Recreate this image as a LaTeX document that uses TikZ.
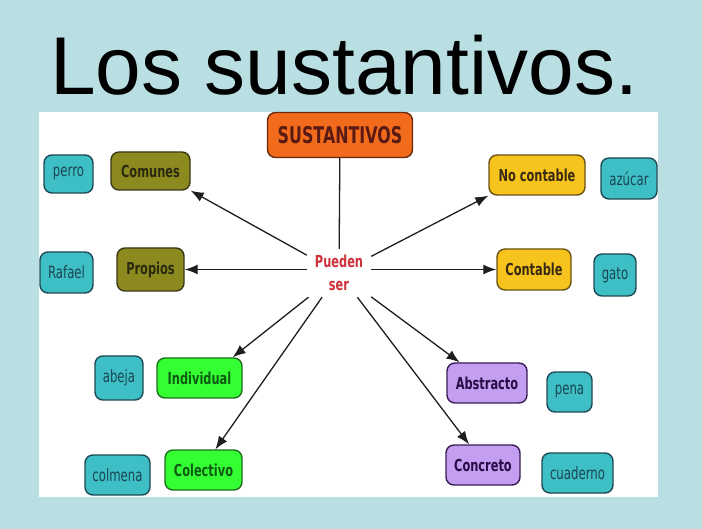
\documentclass[tikz,border=0pt]{standalone}
\usepackage{fontspec}
\setmainfont{Liberation Sans}
\newfontfamily\boxfont[FakeStretch=0.69]{DejaVu Sans}
\usetikzlibrary{arrows.meta}
\definecolor{bgblue}{HTML}{B9DFE3}
\definecolor{tealfill}{HTML}{3EBFC6}
\definecolor{tealline}{HTML}{1E4A55}
\definecolor{tealtext}{HTML}{1B4652}
\definecolor{olivefill}{HTML}{8C8A1E}
\definecolor{oliveline}{HTML}{3A3812}
\definecolor{olivetext}{HTML}{2A2A10}
\definecolor{yellowfill}{HTML}{F6C41C}
\definecolor{yellowline}{HTML}{6A5214}
\definecolor{yellowtext}{HTML}{3A2A12}
\definecolor{greenfill}{HTML}{33FF33}
\definecolor{greenline}{HTML}{1E6E1E}
\definecolor{greentext}{HTML}{0E5A12}
\definecolor{purplefill}{HTML}{C49EF0}
\definecolor{purpleline}{HTML}{3A1C55}
\definecolor{purpletext}{HTML}{2A0C48}
\definecolor{orangefill}{HTML}{F26B1C}
\definecolor{orangeline}{HTML}{6A2A12}
\definecolor{orangetext}{HTML}{5A1A14}
\definecolor{puedenred}{HTML}{D0303A}
\definecolor{arrowgray}{HTML}{1E1E1E}
\tikzset{
  basebox/.style={rounded corners=8pt, line width=1.4pt, inner sep=0pt, minimum height=40pt, align=center},
  leafbox/.style={basebox, draw=tealline, fill=tealfill, text=tealtext, font=\boxfont\fontsize{17}{19}\selectfont},
  olivebox/.style={basebox, draw=oliveline, fill=olivefill, text=olivetext, font=\boxfont\bfseries\fontsize{16.5}{18}\selectfont},
  yellowbox/.style={basebox, draw=yellowline, fill=yellowfill, text=yellowtext, font=\boxfont\bfseries\fontsize{16.5}{18}\selectfont},
  greenbox/.style={basebox, draw=greenline, fill=greenfill, text=greentext, font=\boxfont\bfseries\fontsize{16.5}{18}\selectfont},
  purplebox/.style={basebox, draw=purpleline, fill=purplefill, text=purpletext, font=\boxfont\bfseries\fontsize{16.5}{18}\selectfont},
  topbox/.style={basebox, draw=orangeline, fill=orangefill, text=orangetext, font=\boxfont\bfseries\fontsize{23}{25}\selectfont},
  conn/.style={draw=arrowgray, line width=1.3pt},
  arr/.style={conn, -{Latex[length=13pt,width=10pt]}}
}
\begin{document}
\begin{tikzpicture}[x=1pt,y=-1pt]
\fill[bgblue] (0,0) rectangle (702,529);
\useasboundingbox (0,0) rectangle (702,529);
\fill[white] (39,112) rectangle (658,497);
\node[font=\fontsize{82}{92}\selectfont, anchor=base] (title) at (344,95) {Los sustantivos.};

\node[topbox, minimum width=145pt, minimum height=45pt] (sust) at (340,135) {SUSTANTIVOS};
\node[minimum width=64pt, minimum height=48pt, inner sep=0pt, align=center, text=puedenred,
      font=\boxfont\bfseries\fontsize{16.5}{23}\selectfont] (pueden) at (339,273) {Pueden\\ser};

\node[olivebox, minimum width=79pt, minimum height=38pt] (comunes) at (150.5,171) {Comunes};
\node[olivebox, minimum width=67pt, minimum height=43pt] (propios) at (150.5,269.5) {Propios};
\node[yellowbox, minimum width=96pt] (nocont) at (537,175) {No contable};
\node[yellowbox, minimum width=74pt, minimum height=41pt] (cont) at (534,269.5) {Contable};
\node[greenbox, minimum width=85pt] (indiv) at (199.5,378) {Individual};
\node[greenbox, minimum width=77pt] (colec) at (203.5,470) {Colectivo};
\node[purplebox, minimum width=80pt] (abstr) at (487,383) {Abstracto};
\node[purplebox, minimum width=74pt] (concr) at (483,465) {Concreto};

\node[leafbox, minimum width=49pt, minimum height=38pt] (perro) at (68.5,174) {perro};
\node[leafbox, minimum width=53pt, minimum height=41pt] (rafael) at (66.5,272.5) {Rafael};
\node[leafbox, minimum width=56pt, minimum height=41pt] (azucar) at (629,178.5) {azúcar};
\node[leafbox, minimum width=42pt, minimum height=42pt] (gato) at (615,275) {gato};
\node[leafbox, minimum width=48pt, minimum height=44pt] (abeja) at (119,378) {abeja};
\node[leafbox, minimum width=65pt] (colmena) at (117.5,475) {colmena};
\node[leafbox, minimum width=45pt] (pena) at (569.5,392) {pena};
\node[leafbox, minimum width=71pt] (cuaderno) at (577.5,473) {cuaderno};

\draw[conn] (sust) -- (pueden);
\draw[arr] (pueden) -- (comunes.south east);
\draw[arr] (pueden.west |- propios) -- (propios.east);
\draw[arr] (pueden) -- (nocont.south west);
\draw[arr] (pueden.east |- cont) -- (cont.west);
\draw[arr] (pueden) -- (indiv.32);
\draw[arr] (pueden) -- (colec.60);
\draw[arr] (pueden) -- (abstr.143);
\draw[arr] (pueden) -- (concr.124);
\end{tikzpicture}
\end{document}
